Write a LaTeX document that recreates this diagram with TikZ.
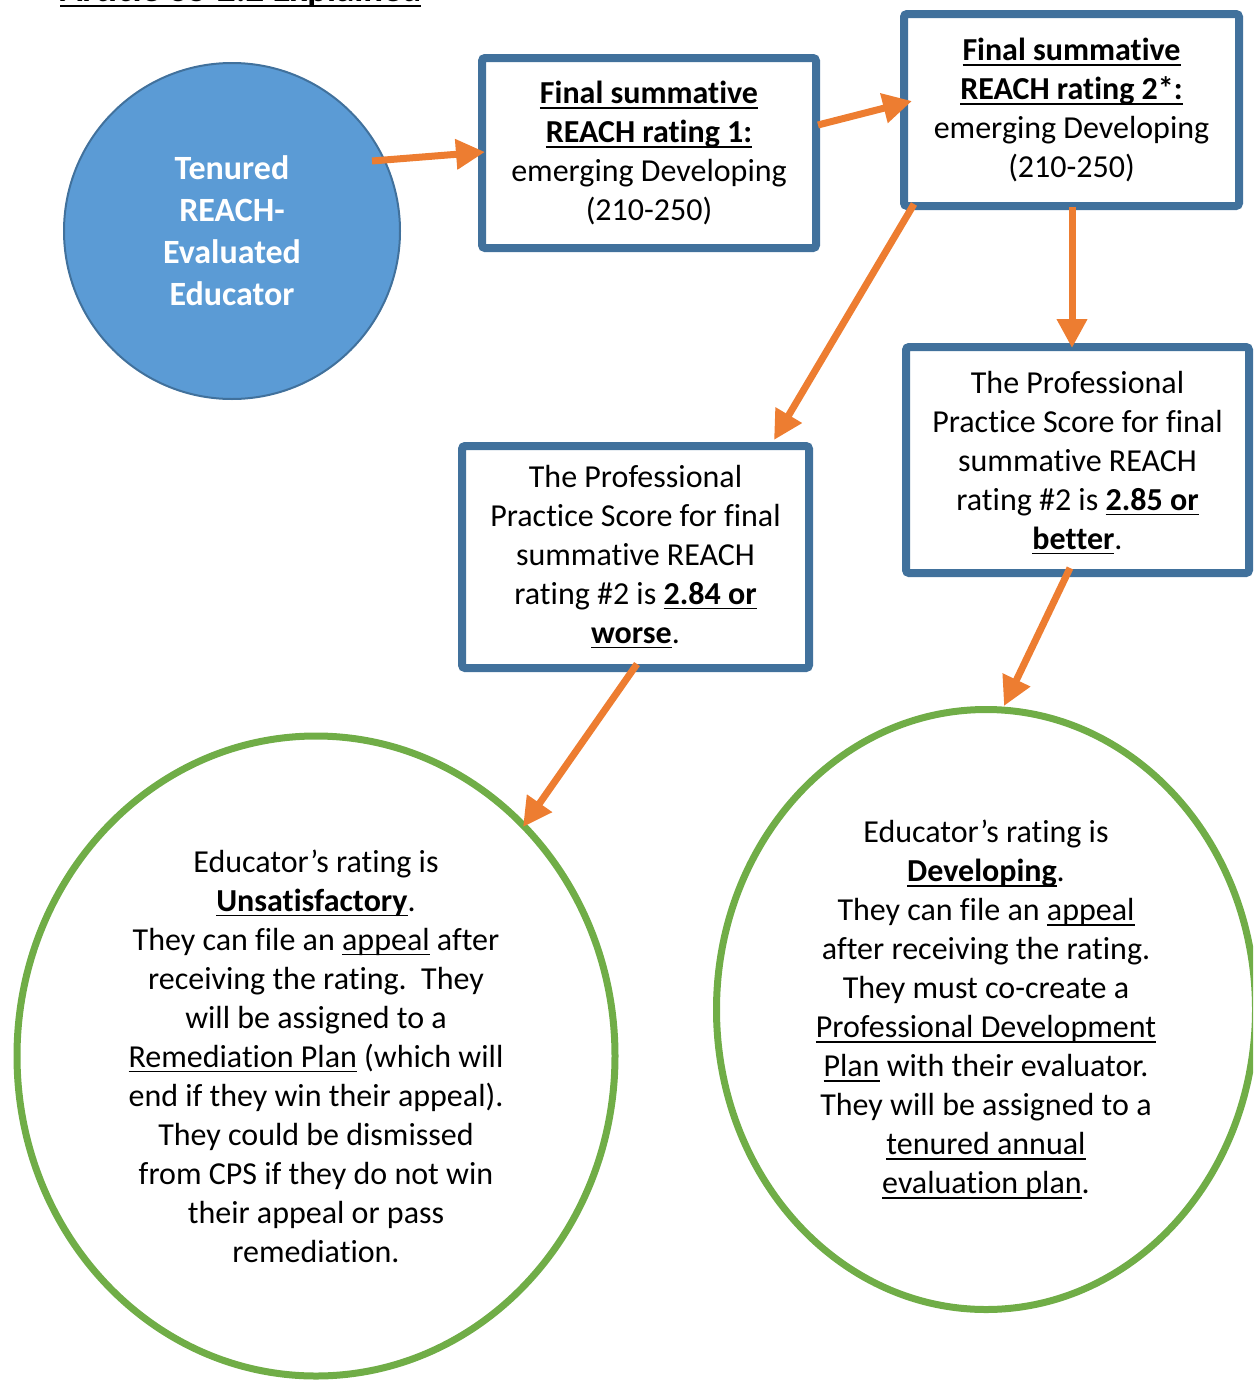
\documentclass[tikz,border=0pt]{standalone}
\usepackage{fontspec}
\setmainfont{Carlito}[Ligatures={NoCommon,NoRare,NoContextual}]
\usetikzlibrary{shapes.geometric,arrows.meta}
\definecolor{boxblue}{HTML}{41719C}
\definecolor{fillblue}{HTML}{5B9BD5}
\definecolor{arrorange}{HTML}{ED7D31}
\definecolor{circgreen}{HTML}{70AD47}
\newsavebox\ulbox
\newcommand\myul[1]{\sbox\ulbox{#1}\rlap{\rule[-2.6pt]{\wd\ulbox}{0.9pt}}\usebox\ulbox}
\newcommand\bodyfont{\fontsize{16}{19.5}\selectfont}
\begin{document}
\begin{tikzpicture}[x=0.5pt,y=-0.5pt,
  rbox/.style={draw=boxblue, line width=4pt, fill=white, rounded corners=1.5pt,
    inner sep=0pt, align=center, font=\bodyfont},
  gcirc/.style={ellipse, draw=circgreen, line width=3.5pt, inner sep=0pt,
    align=center, font=\bodyfont},
  flow/.style={draw=arrorange, line width=3.5pt,
    -{Triangle[length=14.5pt,width=14.5pt]}}]
\useasboundingbox (0,0) rectangle (1253,1381);
\clip (0,0) rectangle (1253,1381);

\node[anchor=base west, font=\fontsize{18.4}{22}\selectfont\bfseries] (title) at (53,1.5)
  {\myul{Article 38-2.2 Explained}};

\node[circle, fill=fillblue, draw=boxblue, line width=1pt, minimum size=168pt,
  inner sep=0pt, align=center, text=white,
  font=\fontsize{17}{21}\selectfont\bfseries] (start) at (232,231)
  {Tenured\\REACH-\\Evaluated\\Educator};

\node[rbox, minimum width=167pt, minimum height=95pt] (box1) at (649,153)
  {\myul{\textbf{Final summative}}\\ \myul{\textbf{REACH rating 1:}}\\ emerging Developing\\ (210-250)};

\node[rbox, minimum width=167.5pt, minimum height=96pt] (box2) at (1071.5,110)
  {\myul{\textbf{Final summative}}\\ \myul{\textbf{REACH rating 2*:}}\\ emerging Developing\\ (210-250)};

\node[rbox, minimum width=171.5pt, minimum height=113pt, text depth=0pt] (box3) at (1077.5,460)
  {\raisebox{0pt}{}The Professional\\ Practice Score for final\\ summative REACH\\ rating \#2 is \myul{\textbf{2.85 or}}\\ \myul{\textbf{better}}.\rule[-3pt]{0pt}{0pt}};

\node[rbox, minimum width=173.5pt, minimum height=111pt] (box4) at (635.5,557)
  {The Professional\\ Practice Score for final\\ summative REACH\\ rating \#2 is \myul{\textbf{2.84 or}}\\ \myul{\textbf{worse}}.\rule[-3pt]{0pt}{0pt}};

\node[gcirc, minimum width=299pt, minimum height=320pt] (unsat) at (316,1056)
  {Educator’s rating is\\ \myul{\textbf{Unsatisfactory}}.\\ They can file an \myul{appeal} after\\ receiving the rating.\ \ They\\ will be assigned to a\\ \myul{Remediation Plan} (which will\\ end if they win their appeal).\\ They could be dismissed\\ from CPS if they do not win\\ their appeal or pass\\ remediation.};

\node[gcirc, minimum width=269.5pt, minimum height=300pt] (dev) at (986,1009.5)
  {Educator’s rating is\\ \myul{\textbf{Developing}}.\\ They can file an \myul{appeal}\\ after receiving the rating.\\ They must co-create a\\ \myul{Professional Development}\\ \myul{Plan} with their evaluator.\\ They will be assigned to a\\ \myul{tenured annual}\\ \myul{evaluation plan}.};

\coordinate (a1s) at (372,161);  \coordinate (a1e) at (485,152);
\coordinate (a2s) at (818,125);  \coordinate (a2e) at (912,101);
\coordinate (a3s) at (914,204);  \coordinate (a3e) at (774,440);
\coordinate (a4s) at (1072,207); \coordinate (a4e) at (1072,348);
\coordinate (a5s) at (1070,568); \coordinate (a5e) at (1004,706);
\coordinate (a6s) at (637,664);  \coordinate (a6e) at (523,827);

\draw[flow] (a1s) -- (a1e);
\draw[flow] (a2s) -- (a2e);
\draw[flow] (a3s) -- (a3e);
\draw[flow] (a4s) -- (a4e);
\draw[flow] (a5s) -- (a5e);
\draw[flow] (a6s) -- (a6e);
\end{tikzpicture}
\end{document}
